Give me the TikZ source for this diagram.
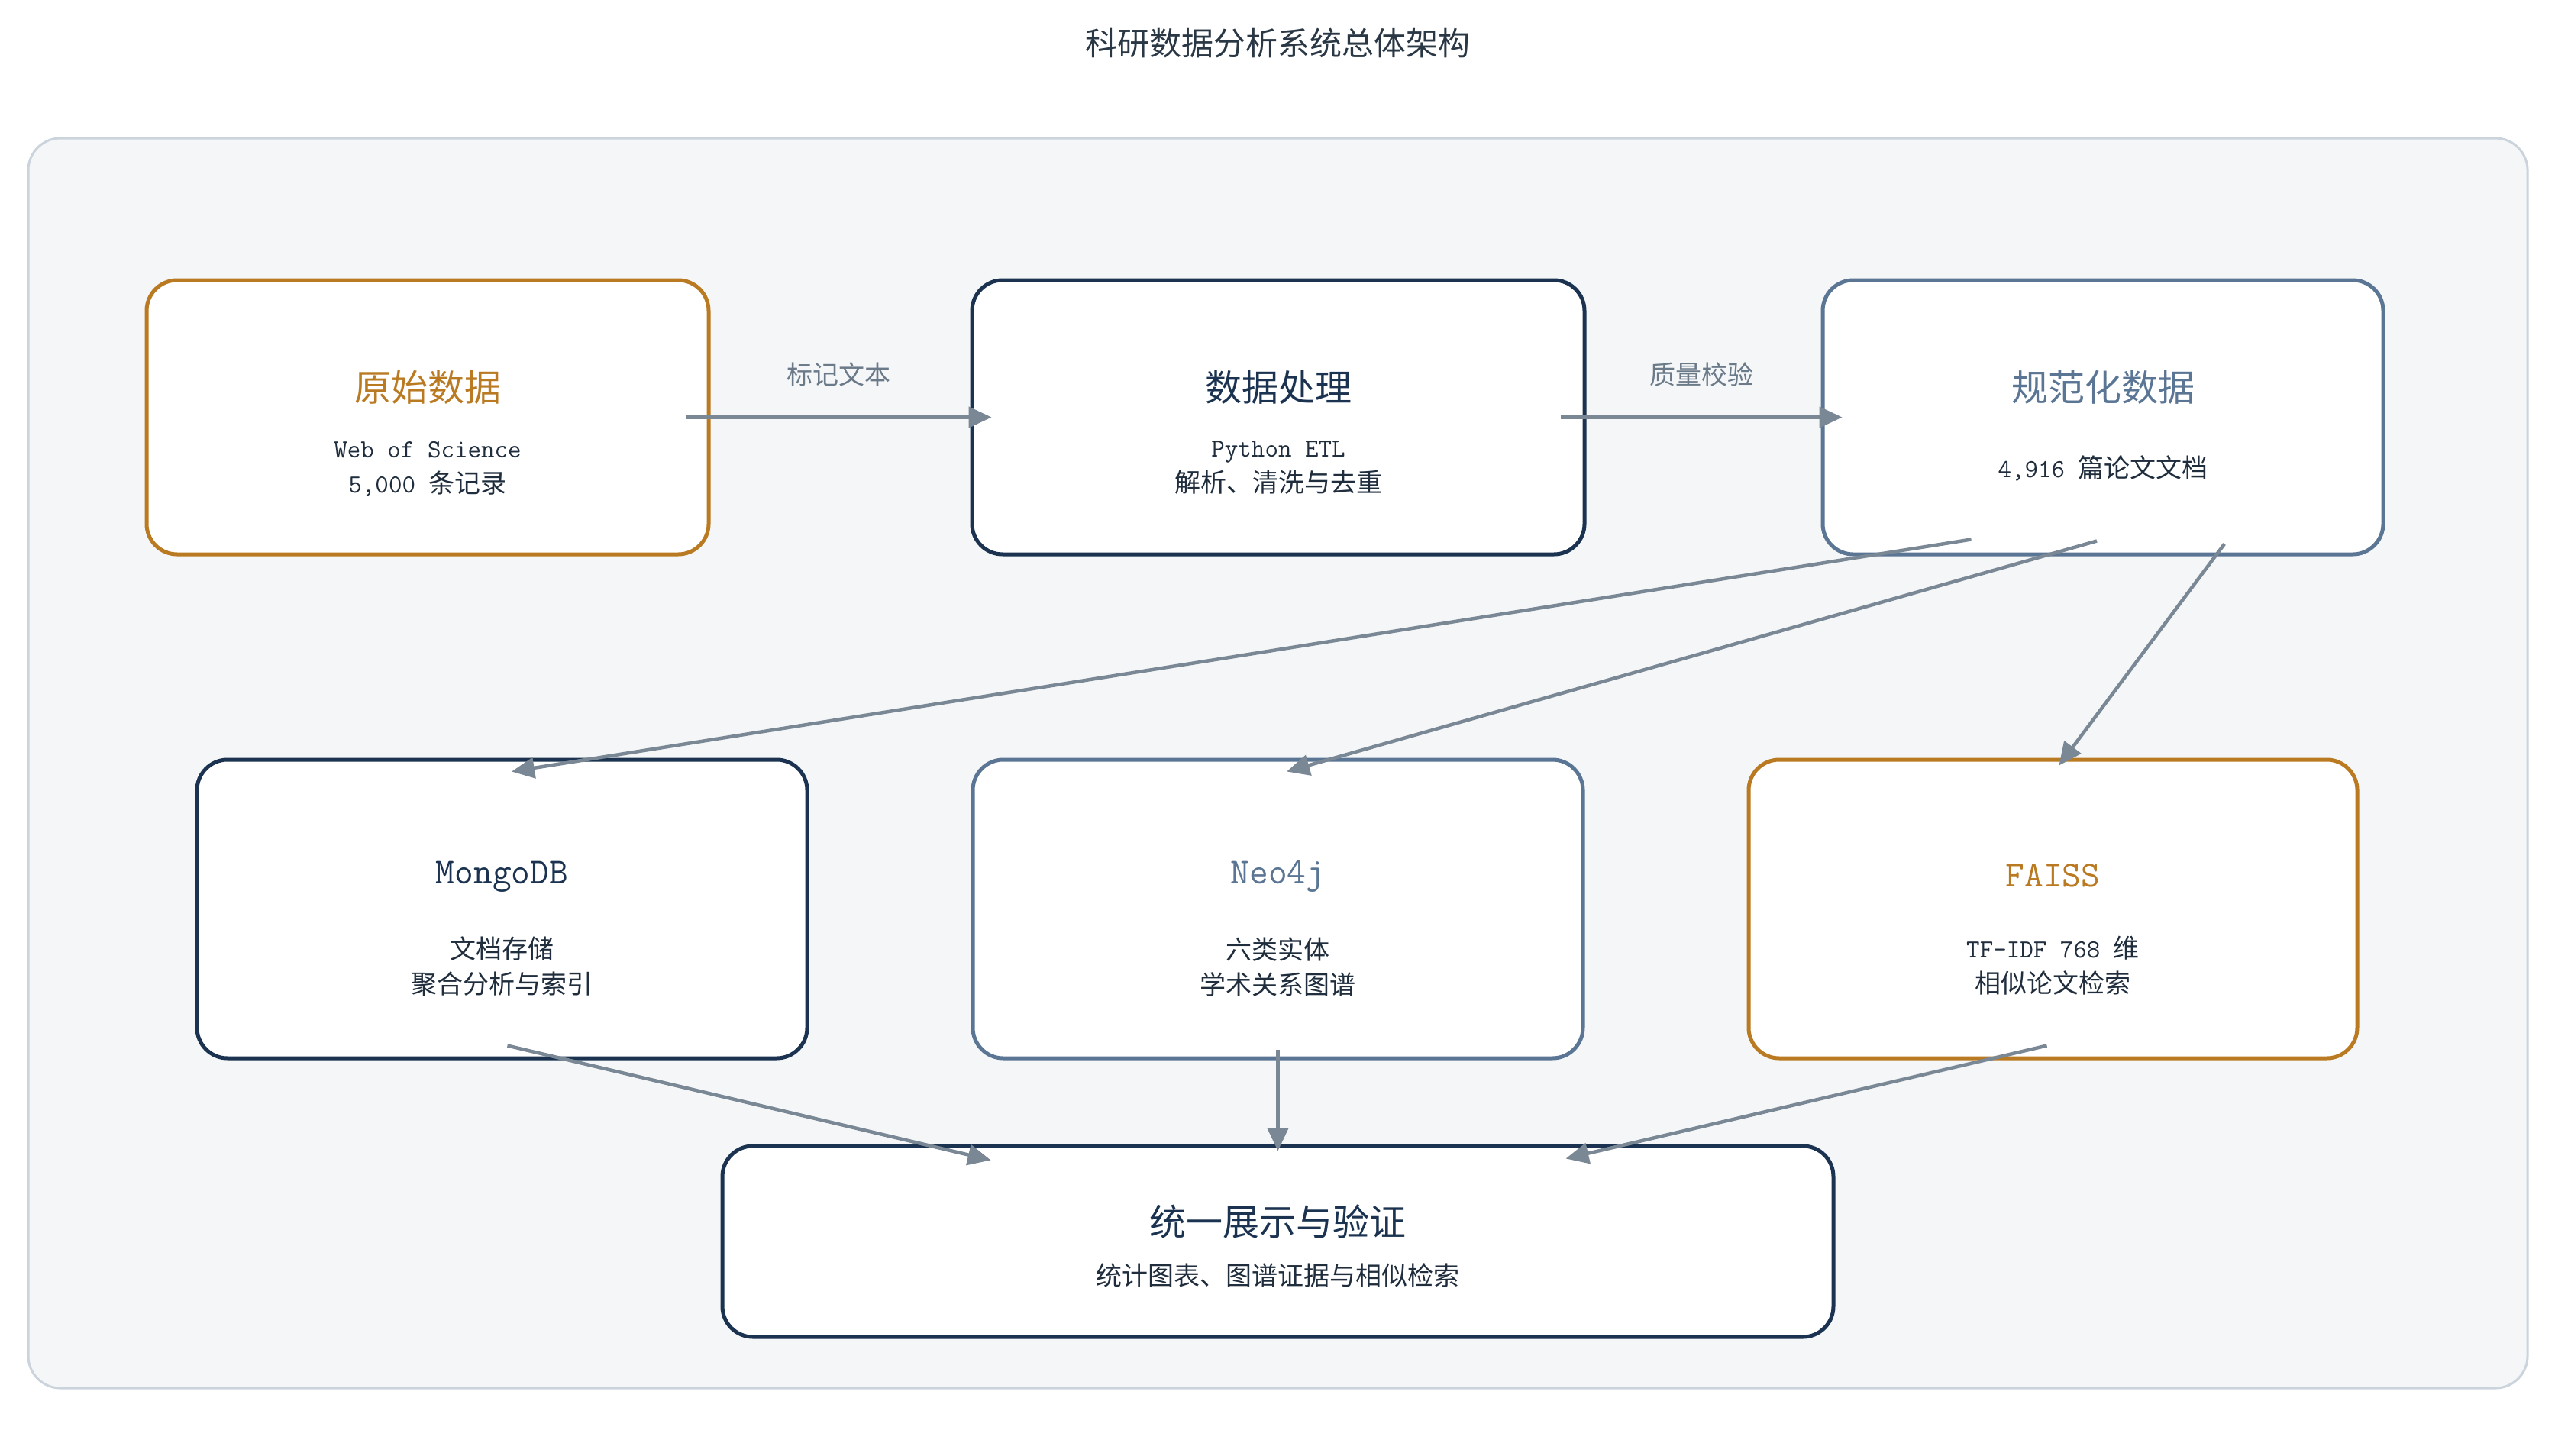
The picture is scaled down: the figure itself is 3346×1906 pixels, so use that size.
\documentclass[tikz,border=0pt]{standalone}
\usepackage{fontspec}
\newfontfamily\cjk{Noto Sans CJK SC}
\usetikzlibrary{arrows.meta}
\definecolor{cOrange}{HTML}{BA7A22}
\definecolor{cNavy}{HTML}{1B3350}
\definecolor{cSlate}{HTML}{5B7694}
\definecolor{cArrow}{HTML}{7A8794}
\definecolor{cPanel}{HTML}{F4F6F8}
\definecolor{cPanelLine}{HTML}{CBD4DC}
\definecolor{cSub}{HTML}{1F2D3D}
\definecolor{cTitle}{HTML}{2A3845}
\definecolor{cLabel}{HTML}{6B7A89}
\newcommand{\zh}[1]{{\cjk #1}}
\tikzset{
  card/.style={draw=#1, line width=5pt, fill=white, rounded corners=40pt, inner sep=0pt, shape=rectangle},
  ttl/.style={font=\fontsize{48}{56}\selectfont, text=#1, inner sep=0pt, anchor=center},
  sub/.style={font=\fontsize{34}{46}\selectfont, text=cSub, align=center, inner sep=0pt, anchor=center},
  conn/.style={draw=cArrow, line width=4.5pt, -{Triangle[length=30pt,width=27pt]}},
  elabel/.style={font=\cjk\fontsize{34}{40}\selectfont, text=cLabel, inner sep=0pt}
}
\begin{document}
\begin{tikzpicture}[x=1pt,y=-1pt]
\useasboundingbox (0,0) rectangle (3346,1906);
\fill[white] (0,0) rectangle (3346,1906);
\node[font=\cjk\fontsize{42}{48}\selectfont, text=cTitle, inner sep=0pt] (title) at (1673,57) {科研数据分析系统总体架构};
\draw[draw=cPanelLine, fill=cPanel, line width=3pt, rounded corners=42pt] (37,181) rectangle (3310,1818);

% top row
\node[card=cOrange, minimum width=736pt, minimum height=359pt] (raw) at (560,546.5) {};
\node[card=cNavy, minimum width=802pt, minimum height=359pt] (proc) at (1674,546.5) {};
\node[card=cSlate, minimum width=734pt, minimum height=359pt] (norm) at (2754,546.5) {};
% middle row
\node[card=cNavy, minimum width=799pt, minimum height=391pt] (mongo) at (657.5,1190.5) {};
\node[card=cSlate, minimum width=799pt, minimum height=391pt] (neo) at (1673.5,1190.5) {};
\node[card=cOrange, minimum width=797pt, minimum height=391pt] (faiss) at (2688.5,1190.5) {};
% bottom
\node[card=cNavy, minimum width=1455pt, minimum height=250pt] (out) at (1673.5,1626) {};

% texts
\node[ttl=cOrange] (rawT) at (560,507) {\zh{原始数据}};
\node[sub] (rawS) at (560,614) {\ttfamily Web of Science\\{\ttfamily 5,000 }\zh{条记录}};
\node[ttl=cNavy] (procT) at (1674,507) {\zh{数据处理}};
\node[sub] (procS) at (1674,613) {\ttfamily Python ETL\\\zh{解析、清洗与去重}};
\node[ttl=cSlate] (normT) at (2754,507) {\zh{规范化数据}};
\node[sub] (normS) at (2754,613) {{\ttfamily 4,916 }\zh{篇论文文档}};

\node[ttl=cNavy] (mongoT) at (657.5,1148) {\ttfamily MongoDB};
\node[sub] (mongoS) at (657.5,1266) {\zh{文档存储}\\\zh{聚合分析与索引}};
\node[ttl=cSlate] (neoT) at (1673.5,1148) {\ttfamily Neo4j};
\node[sub] (neoS) at (1673.5,1266) {\zh{六类实体}\\\zh{学术关系图谱}};
\node[ttl=cOrange] (faissT) at (2688.5,1147) {\ttfamily FAISS};
\node[sub] (faissS) at (2688.5,1265) {{\ttfamily TF-IDF 768 }\zh{维}\\\zh{相似论文检索}};

\node[ttl=cNavy] (outT) at (1673.5,1600) {\zh{统一展示与验证}};
\node[sub] (outS) at (1673.5,1670) {\zh{统计图表、图谱证据与相似检索}};

% connectors
\draw[conn] ([xshift=-33pt]raw.east) -- node[elabel, midway, yshift=56pt] (l1) {标记文本} ([xshift=28pt]proc.west);
\draw[conn] ([xshift=-34pt]proc.east) -- node[elabel, midway, yshift=56pt] (l2) {质量校验} ([xshift=28pt]norm.west);
\draw[conn] ([xshift=197pt,yshift=22pt]norm.south west) -- ([xshift=12.5pt,yshift=-18pt]mongo.north);
\draw[conn] ([xshift=-8pt,yshift=20pt]norm.south) -- ([xshift=11.5pt,yshift=-18pt]neo.north);
\draw[conn] ([xshift=159pt,yshift=16pt]norm.south) -- ([xshift=8pt,yshift=-10pt]faiss.north);
\draw[conn] ([xshift=7pt,yshift=19pt]mongo.south) -- ([xshift=354pt,yshift=-21pt]out.north west);
\draw[conn] ([yshift=14pt]neo.south) -- ([yshift=-9pt]out.north);
\draw[conn] ([xshift=-8pt,yshift=19pt]faiss.south) -- ([xshift=-353pt,yshift=-19pt]out.north east);
\end{tikzpicture}
\end{document}
